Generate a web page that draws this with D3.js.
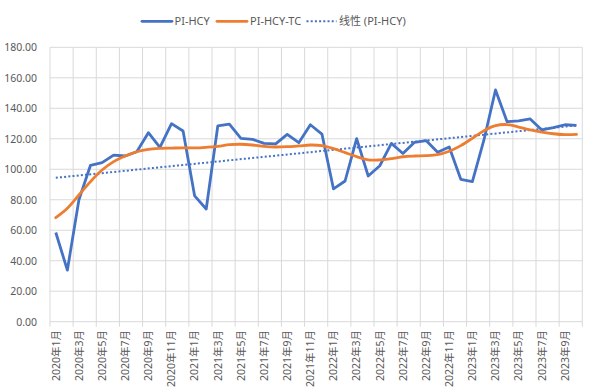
<!DOCTYPE html>
<html><head><meta charset="utf-8">
<script src="https://cdn.jsdelivr.net/npm/d3@7"></script>
<style>
body{margin:0;background:#fff;}
text{font-family:"Noto Sans","Noto Sans CJK SC",sans-serif;fill:#595959;}
</style></head>
<body><svg id="c" width="591" height="390"></svg>
<script>
const months = [];
for (let y = 2020; y <= 2023; y++) for (let m = 1; m <= 12; m++) { if (y === 2023 && m > 10) break; months.push(y + "年" + m + "月"); }
const piHcy = [58.5,33.8,80,102.6,104.3,109.3,108.7,111.5,124,114.4,129.9,125.1,
  82.5,73.9,128.4,129.6,120.3,119.6,117,116.6,122.9,117.4,129.2,123.1,
  87.1,92.3,120.1,95.6,102.3,117,110.3,117.7,118.8,111.1,114.6,93.4,
  91.9,119.2,152,131.2,131.7,133,125.8,127.3,129.2,128.8];
const piHcyTc = [68.2,74.4,83.1,91.9,99.5,105,108.7,111.5,113.1,113.7,113.9,114,
  114,114.4,115,116.1,116.4,115.9,115,114.6,114.8,115.3,115.9,115.5,
  113.5,110.9,108.3,106.1,106.1,107,108.2,108.7,108.9,109.6,111.8,115.5,
  120.3,125.3,128.6,129.3,127.7,125.8,124.4,123.3,122.7,122.9];
const yTicks = [0,20,40,60,80,100,120,140,160,180];
const seriesNames = ["PI-HCY","PI-HCY-TC","线性 (PI-HCY)"];
const colors = ["#4472C4","#ED7D31","#4472C4"];

const svg = d3.select("#c");
const L = 50, R = 582.3, T = 47.3, B = 321.7;
const x = d3.scaleBand().domain(months).range([L, R]);
const y = d3.scaleLinear().domain([0, 180]).range([B, T]);
const cx = d => x(d) + x.bandwidth() / 2;

// horizontal grid
svg.append("g").selectAll("line").data(yTicks).join("line")
  .attr("x1", L).attr("x2", R).attr("y1", d => y(d)).attr("y2", d => y(d))
  .attr("stroke", "#D9D9D9").attr("stroke-width", 1);
// vertical grid every 2 categories (plus right edge)
const vIdx = d3.range(0, months.length + 1, 2);
svg.append("g").selectAll("line").data(vIdx).join("line")
  .attr("x1", i => L + i * x.bandwidth()).attr("x2", i => L + i * x.bandwidth())
  .attr("y1", T).attr("y2", B + 5)
  .attr("stroke", "#D9D9D9").attr("stroke-width", 1);

// y labels
svg.append("g").selectAll("text").data(yTicks).join("text")
  .attr("x", 37).attr("y", d => y(d) + 3.8).attr("text-anchor", "end")
  .style("font-size", "10.5px").text(d => d3.format(".2f")(d));

// x labels
svg.append("g").selectAll("text").data(months.filter((d, i) => i % 2 === 0)).join("text")
  .attr("transform", d => `translate(${cx(d) + 3.8},330) rotate(-90)`)
  .attr("text-anchor", "end").style("font-size", "10.5px").text(d => d);

// linear trend (least squares on PI-HCY)
const n = piHcy.length, xs = d3.range(1, n + 1);
const mx = d3.mean(xs), my = d3.mean(piHcy);
const slope = d3.sum(xs, (v, i) => (v - mx) * (piHcy[i] - my)) / d3.sum(xs, v => (v - mx) ** 2);
const icpt = my - slope * mx;
svg.append("line")
  .attr("x1", cx(months[0])).attr("y1", y(icpt + slope * 1))
  .attr("x2", cx(months[n - 1])).attr("y2", y(icpt + slope * n))
  .attr("stroke", colors[2]).attr("stroke-width", 2).attr("stroke-dasharray", "2 2.2");

const line = d3.line().x((d, i) => cx(months[i])).y(d => y(d));
svg.append("path").datum(piHcy).attr("d", line)
  .attr("fill", "none").attr("stroke", colors[0]).attr("stroke-width", 2.8).attr("stroke-linejoin", "round");
svg.append("path").datum(piHcyTc).attr("d", line.curve(d3.curveCatmullRom.alpha(0.5)))
  .attr("fill", "none").attr("stroke", colors[1]).attr("stroke-width", 2.8).attr("stroke-linecap", "round");

// legend
const leg = [{x: 142, tx: 174.5}, {x: 217, tx: 250}, {x: 306.5, tx: 339}];
leg.forEach((p, i) => {
  svg.append("line").attr("x1", p.x).attr("x2", p.x + 30).attr("y1", 21.3).attr("y2", 21.3)
    .attr("stroke", colors[i]).attr("stroke-width", i === 2 ? 2 : 2.8)
    .attr("stroke-dasharray", i === 2 ? "2 2.2" : null).attr("stroke-linecap", i === 2 ? "butt" : "round");
  svg.append("text").attr("x", p.tx).attr("y", 25.3).style("font-size", "11px").text(seriesNames[i]);
});
</script></body></html>
